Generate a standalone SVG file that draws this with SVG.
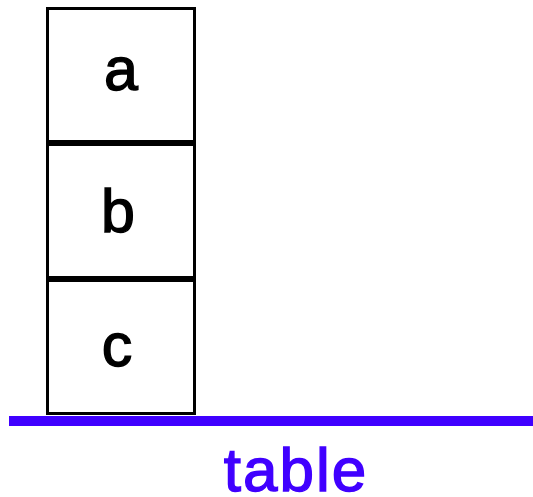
<svg xmlns="http://www.w3.org/2000/svg" width="533" height="497" viewBox="0 0 533 497">
<style>
.box{fill:#fff;stroke:#000;stroke-width:3}
.lbl{font-family:"Liberation Sans",Arial,sans-serif;font-size:61px;fill:#000;stroke:#000;stroke-width:1.4;text-anchor:middle}
.tbl{font-family:"Liberation Sans",Arial,sans-serif;font-size:62px;fill:#4000FF;stroke:#4000FF;stroke-width:1.4;letter-spacing:2px;text-anchor:middle}
</style>
<rect width="533" height="497" fill="#fff"/>
<g id="block-a"><rect class="box" x="47.5" y="8.5" width="147" height="133"/><text class="lbl" x="121" y="90">a</text></g>
<g id="block-b"><rect class="box" x="47.5" y="144.5" width="147" height="133"/><text class="lbl" x="118" y="232">b</text></g>
<g id="block-c"><rect class="box" x="47.5" y="280.5" width="147" height="133"/><text class="lbl" x="117" y="366">c</text></g>
<g id="table"><rect x="9" y="416" width="524" height="10" fill="#4000FF"/><text class="tbl" x="296" y="491">table</text></g>
<g id="connectors"/>
</svg>
